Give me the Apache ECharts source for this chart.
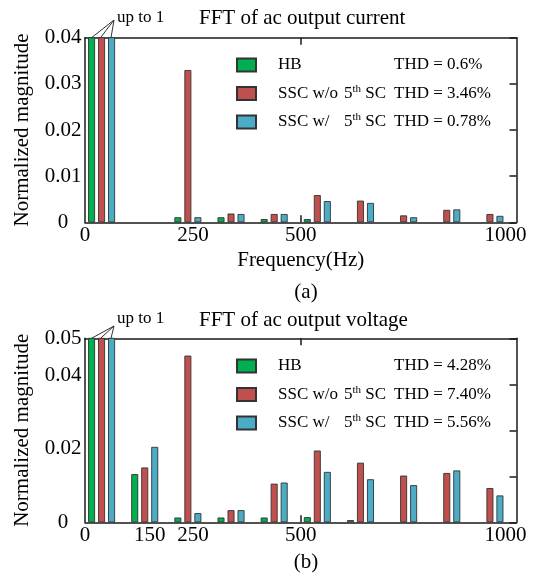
<!DOCTYPE html>
<html>
<head>
<meta charset="utf-8">
<script src="https://cdn.jsdelivr.net/npm/echarts@6/dist/echarts.min.js"></script>
<style>html,body{margin:0;padding:0;background:#fff}#c{width:538px;height:578px}</style>
</head>
<body>
<div id="c"></div>
<script>
// ---- data ----
const freqs = [50, 150, 250, 350, 450, 550, 650, 750, 850, 950];
const hbCurrent    = [1, null, 0.0011, 0.0011, 0.0007, 0.0007, null, null, null, null];
const sscWoCurrent = [1, null, 0.033, 0.0019, 0.0018, 0.0059, 0.0047, 0.0015, 0.0027, 0.0018];
const sscWCurrent  = [1, null, 0.0011, 0.0018, 0.0018, 0.0046, 0.0042, 0.0011, 0.0028, 0.0014];
const hbVoltage    = [1, 0.0131, 0.0013, 0.0013, 0.0013, 0.0014, 0.0006, null, null, null];
const sscWoVoltage = [1, 0.0149, 0.0453, 0.0033, 0.0105, 0.0195, 0.0162, 0.0127, 0.0134, 0.0093];
const sscWVoltage  = [1, 0.0205, 0.0025, 0.0033, 0.0108, 0.0137, 0.0117, 0.0101, 0.0141, 0.0073];
const xLabelsCurrent = [0, 250, 500, 1000];
const xLabelsVoltage = [0, 150, 250, 500, 1000];
const yLabelsCurrent = [0, 0.01, 0.02, 0.03, 0.04];
const yLabelsVoltage = [0, 0.02, 0.04, 0.05];
const seriesNames = ['HB', 'SSC w/o 5th SC', 'SSC w/ 5th SC'];
const thdCurrent = ['0.6%', '3.46%', '0.78%'];
const thdVoltage = ['4.28%', '7.40%', '5.56%'];
const colors = ['#00B050', '#C0504D', '#4BACC6'];

// ---- styles ----
const FONT = 'Liberation Serif';
const axisLineStyle = {color: '#1a1a1a', width: 1.5};
const chart = echarts.init(document.getElementById('c'), null, {renderer: 'canvas'});

function pair(vals) { return freqs.map((f, i) => [f, vals[i] == null ? '-' : vals[i]]); }
function fmtY(v) { return v === 0 ? '0' : v.toFixed(2); }

function legendFormatter(thd) {
  return function (name) {
    const idx = seriesNames.indexOf(name.replace(/ \(.\)$/, ''));
    const t = '{e|THD = ' + thd[idx] + '}';
    if (idx === 0) return '{h|HB}' + t;
    const pre = idx === 1 ? 'SSC w/o' : 'SSC w/';
    return '{a|' + pre + '}{b|5}{c|th}{d| SC}' + t;
  };
}
const legendRich = {
  h: {fontFamily: FONT, fontSize: 17, color: '#000', width: 116, padding: [0, 0, 0, 17], lineHeight: 20},
  a: {fontFamily: FONT, fontSize: 17, color: '#000', width: 66, padding: [0, 0, 0, 17], lineHeight: 20},
  b: {fontFamily: FONT, fontSize: 17, color: '#000', lineHeight: 20},
  c: {fontFamily: FONT, fontSize: 11, color: '#000', lineHeight: 12, verticalAlign: 'top'},
  d: {fontFamily: FONT, fontSize: 17, color: '#000', width: 33, lineHeight: 20},
  e: {fontFamily: FONT, fontSize: 17, color: '#000', lineHeight: 20}
};

function makeLegend(top, suffix, thd) {
  return {
    orient: 'vertical', left: 236, top: top, padding: 0,
    itemWidth: 19, itemHeight: 13, itemGap: 10, icon: 'rect',
    data: seriesNames.map(n => n + suffix),
    formatter: legendFormatter(thd),
    textStyle: {fontFamily: FONT, fontSize: 17, color: '#000', rich: legendRich},
    selectedMode: false
  };
}

function xAxes(gridIndex, labels, showName) {
  return [{
    type: 'value', gridIndex: gridIndex, position: 'bottom', min: 0, max: 1000,
    name: showName ? 'Frequency(Hz)' : '', nameLocation: 'middle', nameGap: 28,
    nameTextStyle: {fontFamily: FONT, fontSize: 21, color: '#000'},
    axisLine: {show: true, onZero: false, lineStyle: axisLineStyle},
    axisTick: {show: true, inside: true, length: 7, customValues: [500], lineStyle: axisLineStyle},
    axisLabel: {
      customValues: labels, margin: 3, fontFamily: FONT, fontSize: 21, color: '#000',
      formatter: v => v === 1000 ? '{e|1000}' : String(v),
      rich: {e: {fontFamily: FONT, fontSize: 21, color: '#000', padding: [0, 22, 0, 0]}}
    },
    splitLine: {show: false}
  }, {
    type: 'value', gridIndex: gridIndex, position: 'top', min: 0, max: 1000,
    axisLine: {show: true, onZero: false, lineStyle: axisLineStyle},
    axisTick: {show: true, inside: true, length: 7, customValues: [500], lineStyle: axisLineStyle},
    axisLabel: {show: false}, splitLine: {show: false}
  }];
}

function yAxes(gridIndex, max, labels, rightInterval) {
  return [{
    type: 'value', gridIndex: gridIndex, position: 'left', min: 0, max: max,
    name: 'Normalized magnitude', nameLocation: 'middle', nameGap: 52, nameMoveOverlap: false,
    nameTextStyle: {fontFamily: FONT, fontSize: 21, color: '#000'},
    axisLine: {show: true, onZero: false, lineStyle: axisLineStyle},
    axisTick: {show: false},
    axisLabel: {customValues: labels, align: 'center', margin: 22, fontFamily: FONT, fontSize: 21, color: '#000', formatter: fmtY},
    splitLine: {show: false}
  }, {
    type: 'value', gridIndex: gridIndex, position: 'right', min: 0, max: max, interval: rightInterval,
    axisLine: {show: true, onZero: false, lineStyle: axisLineStyle},
    axisTick: {show: true, inside: true, length: 7, lineStyle: axisLineStyle},
    axisLabel: {show: false}, splitLine: {show: false}
  }];
}

function barSeries(name, vals, color, xi, yi) {
  return {
    type: 'bar', name: name, xAxisIndex: xi, yAxisIndex: yi, data: pair(vals),
    barWidth: 7, barGap: '43%', clip: true,
    itemStyle: {color: color, borderColor: '#333', borderWidth: 0.9}
  };
}
// empty slot that reproduces the group offset of the original layout
function spacer(xi, yi) { return {type: 'bar', name: 'spacer' + xi, xAxisIndex: xi, yAxisIndex: yi, data: [], barWidth: 7, barGap: '43%'}; }

const g0Top = 37.7, g1Top = 338.3;

function upTo(top, apexY, textY) {
  return [
    {type: 'line', shape: {x1: 91.5, y1: top, x2: 114, y2: apexY}, style: {stroke: '#333', lineWidth: 1}, z: 10},
    {type: 'line', shape: {x1: 100.5, y1: top, x2: 114, y2: apexY}, style: {stroke: '#333', lineWidth: 1}, z: 10},
    {type: 'line', shape: {x1: 111, y1: top, x2: 114, y2: apexY}, style: {stroke: '#333', lineWidth: 1}, z: 10},
    {type: 'text', x: 117, y: textY, style: {text: 'up to 1', font: '17px "Liberation Serif"', fill: '#000', textVerticalAlign: 'middle'}, z: 10}
  ];
}

const option = {
  backgroundColor: '#fff',
  animation: false,
  grid: [
    {left: 85, right: 21.5, top: g0Top, height: 184.6},
    {left: 85, right: 21.5, top: g1Top, height: 184}
  ],
  xAxis: [...xAxes(0, xLabelsCurrent, true), ...xAxes(1, xLabelsVoltage, false)],
  yAxis: [...yAxes(0, 0.04, yLabelsCurrent, 0.01), ...yAxes(1, 0.05, yLabelsVoltage, 0.0125)],
  legend: [makeLegend(56.5, ' (a)', thdCurrent), makeLegend(357.5, ' (b)', thdVoltage)],
  series: [
    barSeries(seriesNames[0] + ' (a)', hbCurrent, colors[0], 0, 0),
    barSeries(seriesNames[1] + ' (a)', sscWoCurrent, colors[1], 0, 0),
    barSeries(seriesNames[2] + ' (a)', sscWCurrent, colors[2], 0, 0),
    spacer(0, 0),
    barSeries(seriesNames[0] + ' (b)', hbVoltage, colors[0], 2, 2),
    barSeries(seriesNames[1] + ' (b)', sscWoVoltage, colors[1], 2, 2),
    barSeries(seriesNames[2] + ' (b)', sscWVoltage, colors[2], 2, 2),
    spacer(2, 2)
  ],
  graphic: [
    {type: 'text', x: 199, y: 18.5, style: {text: 'FFT of ac output current', font: '21px "Liberation Serif"', fill: '#000', textVerticalAlign: 'middle'}},
    {type: 'text', x: 199, y: 320, style: {text: 'FFT of ac output voltage', font: '21px "Liberation Serif"', fill: '#000', textVerticalAlign: 'middle'}},
    {type: 'text', x: 306, y: 292, style: {text: '(a)', font: '21px "Liberation Serif"', fill: '#000', textAlign: 'center', textVerticalAlign: 'middle'}},
    {type: 'text', x: 306, y: 562, style: {text: '(b)', font: '21px "Liberation Serif"', fill: '#000', textAlign: 'center', textVerticalAlign: 'middle'}},
    ...upTo(g0Top, 20, 18),
    ...upTo(g1Top, 326, 319)
  ]
};
chart.setOption(option);
</script>
</body>
</html>
